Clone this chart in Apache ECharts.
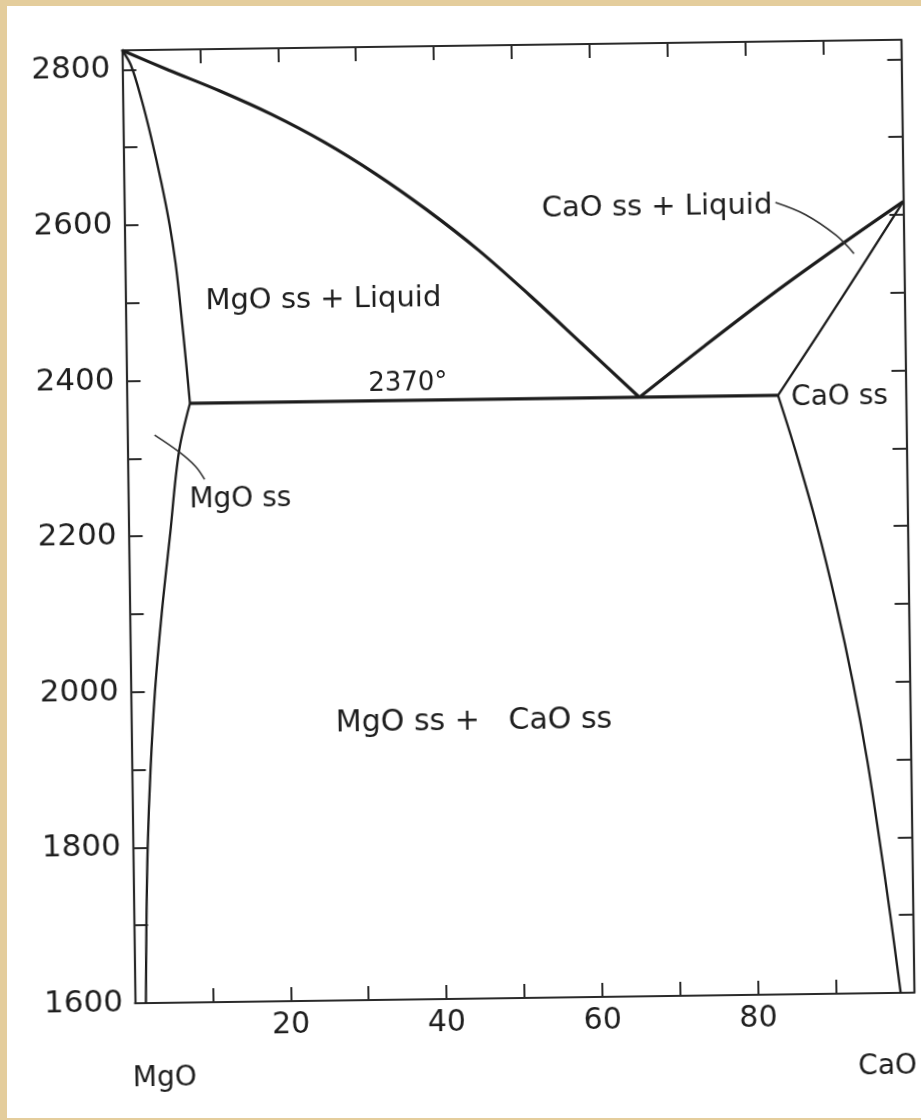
<!DOCTYPE html>
<html><head><meta charset="utf-8">
<script src="https://cdn.jsdelivr.net/npm/echarts@6/dist/echarts.min.js"></script>
<style>
html,body{margin:0;padding:0;}
body{width:921px;height:1120px;background:#e4cd9c;position:relative;overflow:hidden;}
#paper{position:absolute;left:7px;top:6px;width:914px;height:1112px;background:#fff;}
#chart{position:absolute;left:0;top:0;width:921px;height:1120px;transform:rotate(-0.78deg);transform-origin:518px 521.5px;}
</style></head><body>
<div id="paper"></div>
<div id="chart"></div>
<script>
// axis ranges / ticks
const xMin = 0, xMax = 100, xStep = 10;
const yMin = 1600, yMax = 2825, yStep = 100;
const xLabelValues = [20, 40, 60, 80];
const yLabelValues = [1600, 1800, 2000, 2200, 2400, 2600, 2800];

// phase boundaries [wt% CaO, °C]
const mgoLiquidus = [[0,2825],[5.9,2799],[12.5,2771],[19.1,2740],[25.7,2704],[32.3,2662],[38.8,2615],[45.4,2562],[51.9,2503],[58.5,2440],[65.8,2370]];
const caoLiquidus = [[65.8,2370],[74,2433],[83,2500],[92,2563],[100,2617]];
const mgoSolidus = [[0,2825],[1.1,2806],[2.4,2762],[3.6,2712],[4.8,2655],[5.8,2600],[6.5,2550],[7.0,2500],[7.7,2420],[8.1,2370]];
const caoSolidus = [[83.6,2370],[92,2495],[100,2617]];
const eutecticLine = [[8.1,2370],[83.6,2370]];
const mgoSolvus = [[8.1,2370],[6.6,2308],[5.3,2200],[4.1,2100],[3.1,2000],[2.4,1900],[1.9,1800],[1.6,1700],[1.4,1600]];
const caoSolvus = [[83.6,2370],[85.7,2300],[88.4,2200],[90.7,2100],[92.7,2000],[94.4,1900],[95.8,1800],[97.1,1700],[98.3,1600]];
const mgoLeader = [[3.5,2330],[6.6,2308],[8.7,2289],[9.85,2272]];
const caoLeader = [[83.6,2618],[87.4,2602],[91.3,2575],[93.6,2551]];

// text annotations
const labelTexts = ['MgO ss + Liquid','CaO ss + Liquid','2370°','CaO ss','MgO ss','MgO ss +   CaO ss','MgO','CaO'];
const labelX = [25.4, 68.4, 36.1, 91.5, 14.4, 44.0, 3.7, 96.5];
const labelY = [2501, 2614, 2392, 2366, 2245, 1956, 1503, 1505];
const labelSizes = [29, 29, 26, 28, 28, 30, 28, 28];

const FONT = 'DejaVu Sans';
const INK = '#1c1c1c';
const TXT = '#1e1e1e';

function lineSeries(data, width, color) {
  return {type:'line', data:data, smooth:0.35, symbol:'none', clip:false,
    lineStyle:{color:color||INK, width:width}, z:3, silent:true};
}

const axisCommon = {
  axisLine:{show:true, onZero:false, lineStyle:{color:'#2a2a2a', width:2.2}},
  axisTick:{show:true, inside:true, length:14, lineStyle:{color:'#2a2a2a', width:2}},
  splitLine:{show:false}, minorTick:{show:false}
};

const chart = echarts.init(document.getElementById('chart'), null, {renderer:'canvas'});
chart.setOption({
  animation:false,
  backgroundColor:'transparent',
  grid:{left:128.5, top:45, width:779, height:953, containLabel:false, outerBoundsMode:'none'},
  xAxis:[
    Object.assign({type:'value', position:'bottom', min:xMin, max:xMax, interval:xStep,
      axisLabel:{show:true, margin:9, color:TXT, fontFamily:FONT, fontSize:30,
        formatter:v => xLabelValues.includes(v) ? String(v) : ''}}, axisCommon),
    Object.assign({type:'value', position:'top', min:xMin, max:xMax, interval:xStep,
      axisLabel:{show:false}}, axisCommon)
  ],
  yAxis:[
    Object.assign({type:'value', position:'left', min:yMin, max:yMax, interval:yStep,
      axisLabel:{show:true, margin:12, color:TXT, fontFamily:FONT, fontSize:31,
        formatter:v => yLabelValues.includes(v) ? String(v) : ''}}, axisCommon),
    Object.assign({type:'value', position:'right', min:yMin, max:yMax, interval:yStep,
      axisLabel:{show:false}}, axisCommon)
  ],
  series:[
    lineSeries(mgoLiquidus, 3.2),
    lineSeries(caoLiquidus, 3.2),
    lineSeries(eutecticLine, 3.2),
    lineSeries(mgoSolidus, 2.3),
    lineSeries(caoSolidus, 2.3),
    lineSeries(mgoSolvus, 2.3),
    lineSeries(caoSolvus, 2.3),
    lineSeries(mgoLeader, 1.6, '#333'),
    lineSeries(caoLeader, 1.6, '#333'),
    {type:'scatter', clip:false, silent:true, symbolSize:1, z:5,
      itemStyle:{color:'#ffffff', opacity:0},
      data: labelTexts.map((t,i) => ({name:t, value:[labelX[i], labelY[i]],
        label:{fontSize:labelSizes[i], color:TXT, opacity:1, textBorderWidth:0}})),
      label:{show:true, position:'inside', formatter:p => p.name,
        color:TXT, opacity:1, textBorderWidth:0, fontFamily:FONT, fontSize:29}}
  ]
});
</script>
</body></html>
